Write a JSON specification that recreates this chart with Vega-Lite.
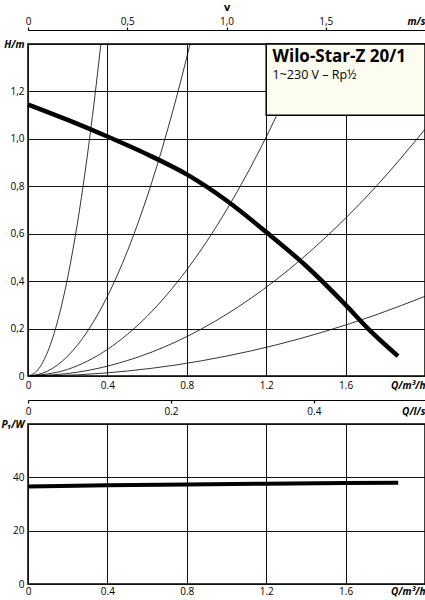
{
  "$schema": "https://vega.github.io/schema/vega-lite/v6.json",
  "padding": {"left": 0, "top": 0, "right": 1, "bottom": 0},
  "background": "white",
  "datasets": {
    "curves": [
      {"curve": "pump", "Q": 0, "H": 1.145},
      {"curve": "pump", "Q": 0.2, "H": 1.08},
      {"curve": "pump", "Q": 0.4, "H": 1.01},
      {"curve": "pump", "Q": 0.6, "H": 0.935},
      {"curve": "pump", "Q": 0.8, "H": 0.85},
      {"curve": "pump", "Q": 1.0, "H": 0.74},
      {"curve": "pump", "Q": 1.2, "H": 0.607},
      {"curve": "pump", "Q": 1.4, "H": 0.465},
      {"curve": "pump", "Q": 1.6, "H": 0.3},
      {"curve": "pump", "Q": 1.713, "H": 0.2},
      {"curve": "pump", "Q": 1.864, "H": 0.084},
      {"curve": "a", "Q": 0, "H": 0},
      {"curve": "a", "Q": 0.05, "H": 0.026},
      {"curve": "a", "Q": 0.1, "H": 0.104},
      {"curve": "a", "Q": 0.15, "H": 0.234},
      {"curve": "a", "Q": 0.2, "H": 0.416},
      {"curve": "a", "Q": 0.25, "H": 0.65},
      {"curve": "a", "Q": 0.3, "H": 0.936},
      {"curve": "a", "Q": 0.35, "H": 1.274},
      {"curve": "a", "Q": 0.38, "H": 1.5},
      {"curve": "b", "Q": 0, "H": 0},
      {"curve": "b", "Q": 0.1, "H": 0.021},
      {"curve": "b", "Q": 0.2, "H": 0.084},
      {"curve": "b", "Q": 0.3, "H": 0.189},
      {"curve": "b", "Q": 0.4, "H": 0.336},
      {"curve": "b", "Q": 0.5, "H": 0.525},
      {"curve": "b", "Q": 0.6, "H": 0.756},
      {"curve": "b", "Q": 0.7, "H": 1.029},
      {"curve": "b", "Q": 0.8, "H": 1.344},
      {"curve": "b", "Q": 0.85, "H": 1.517},
      {"curve": "c", "Q": 0, "H": 0},
      {"curve": "c", "Q": 0.2, "H": 0.028},
      {"curve": "c", "Q": 0.4, "H": 0.112},
      {"curve": "c", "Q": 0.6, "H": 0.252},
      {"curve": "c", "Q": 0.8, "H": 0.448},
      {"curve": "c", "Q": 1.0, "H": 0.7},
      {"curve": "c", "Q": 1.2, "H": 1.008},
      {"curve": "c", "Q": 1.4, "H": 1.372},
      {"curve": "c", "Q": 1.45, "H": 1.47},
      {"curve": "d", "Q": 0, "H": 0},
      {"curve": "d", "Q": 0.25, "H": 0.016},
      {"curve": "d", "Q": 0.5, "H": 0.065},
      {"curve": "d", "Q": 0.75, "H": 0.146},
      {"curve": "d", "Q": 1.0, "H": 0.26},
      {"curve": "d", "Q": 1.25, "H": 0.406},
      {"curve": "d", "Q": 1.5, "H": 0.585},
      {"curve": "d", "Q": 1.75, "H": 0.796},
      {"curve": "d", "Q": 2.0, "H": 1.04},
      {"curve": "e", "Q": 0, "H": 0},
      {"curve": "e", "Q": 0.25, "H": 0.005},
      {"curve": "e", "Q": 0.5, "H": 0.021},
      {"curve": "e", "Q": 0.75, "H": 0.047},
      {"curve": "e", "Q": 1.0, "H": 0.084},
      {"curve": "e", "Q": 1.25, "H": 0.131},
      {"curve": "e", "Q": 1.5, "H": 0.189},
      {"curve": "e", "Q": 1.75, "H": 0.257},
      {"curve": "e", "Q": 2.0, "H": 0.336}
    ],
    "power": [
      {"Q": 0, "P": 36.6},
      {"Q": 0.4, "P": 37.0},
      {"Q": 0.8, "P": 37.3},
      {"Q": 1.2, "P": 37.6},
      {"Q": 1.6, "P": 37.9},
      {"Q": 1.865, "P": 38.0}
    ]
  },
  "vconcat": [
    {
      "width": 397,
      "height": 332,
      "layer": [
        {
          "data": {"name": "curves"},
          "transform": [{"filter": "datum.curve != 'pump'"}],
          "mark": {"type": "line", "color": "black", "strokeWidth": 0.8, "clip": true, "interpolate": "monotone"},
          "encoding": {
            "x": {
              "field": "Q", "type": "quantitative",
              "scale": {"domain": [0, 2], "nice": false},
              "axis": {
                "orient": "bottom", "title": null, "grid": true,
                "values": [0, 0.4, 0.8, 1.2, 1.6, 2],
                "labelExpr": "datum.value >= 1.99 ? 'Q/m³/h' : datum.value == 0 ? '0' : format(datum.value, '.1f')",
                "labelAlign": {"condition": {"test": "datum.value >= 1.99", "value": "right"}, "value": "center"},
                "labelFontWeight": {"condition": {"test": "datum.value >= 1.99", "value": "bold"}, "value": "normal"},
                "labelFontStyle": {"condition": {"test": "datum.value >= 1.99", "value": "italic"}, "value": "normal"}
              }
            },
            "y": {
              "field": "H", "type": "quantitative",
              "scale": {"domain": [0, 1.4], "nice": false},
              "axis": {
                "title": null, "grid": true,
                "values": [0, 0.2, 0.4, 0.6, 0.8, 1, 1.2, 1.4],
                "labelExpr": "datum.value >= 1.39 ? 'H/m' : datum.value == 0 ? '0' : replace(format(datum.value, '.1f'), '.', ',')",
                "labelFontWeight": {"condition": {"test": "datum.value >= 1.39", "value": "bold"}, "value": "normal"},
                "labelFontStyle": {"condition": {"test": "datum.value >= 1.39", "value": "italic"}, "value": "normal"}
              }
            },
            "detail": {"field": "curve"}
          }
        },
        {
          "data": {"name": "curves"},
          "transform": [{"filter": "datum.curve == 'pump'"}],
          "mark": {"type": "line", "color": "black", "strokeWidth": 4.5, "interpolate": "monotone"},
          "encoding": {
            "x": {"field": "Q", "type": "quantitative", "scale": {"domain": [0, 2], "nice": false}, "axis": null},
            "y": {"field": "H", "type": "quantitative"}
          }
        },
        {
          "data": {"values": [{}]},
          "mark": {"type": "rect", "fill": "#fdfcf1", "stroke": "black", "strokeWidth": 1.5},
          "encoding": {
            "x": {"datum": 1.2, "type": "quantitative", "scale": {"domain": [0, 2], "nice": false}, "axis": null},
            "x2": {"datum": 2.0},
            "y": {"datum": 1.1, "type": "quantitative"},
            "y2": {"datum": 1.4}
          }
        },
        {
          "data": {"values": [{}]},
          "mark": {"type": "text", "text": "Wilo-Star-Z 20/1", "align": "left", "baseline": "alphabetic", "font": "Open Sans", "fontWeight": "bold", "fontSize": 17, "color": "black"},
          "encoding": {
            "x": {"datum": 1.232, "type": "quantitative", "scale": {"domain": [0, 2], "nice": false}, "axis": null},
            "y": {"datum": 1.325, "type": "quantitative"}
          }
        },
        {
          "data": {"values": [{}]},
          "mark": {"type": "text", "text": "1~230 V – Rp½", "align": "left", "baseline": "alphabetic", "font": "Open Sans", "fontSize": 12.5, "color": "black"},
          "encoding": {
            "x": {"datum": 1.232, "type": "quantitative", "scale": {"domain": [0, 2], "nice": false}, "axis": null},
            "y": {"datum": 1.252, "type": "quantitative"}
          }
        },
        {
          "data": {"values": [{}]},
          "mark": {"type": "point", "opacity": 0},
          "encoding": {
            "x": {
              "datum": 0, "type": "quantitative",
              "scale": {"domain": [0, 2], "nice": false},
              "axis": {
                "orient": "top", "title": "v", "offset": 14, "grid": false,
                "domain": true, "ticks": true, "tickSize": 3, "labelPadding": 1,
                "titleFontSize": 11, "titleFontWeight": "bold", "titlePadding": 4,
                "values": [0, 0.5, 1, 1.5, 2],
                "labelExpr": "datum.value >= 1.99 ? 'm/s' : datum.value == 0 ? '0' : replace(format(datum.value, '.1f'), '.', ',')",
                "labelAlign": {"condition": {"test": "datum.value >= 1.99", "value": "right"}, "value": "center"},
                "labelFontWeight": {"condition": {"test": "datum.value >= 1.99", "value": "bold"}, "value": "normal"},
                "labelFontStyle": {"condition": {"test": "datum.value >= 1.99", "value": "italic"}, "value": "normal"},
                "tickOpacity": {"condition": {"test": "datum.value >= 1.99", "value": 0}, "value": 1}
              }
            },
            "y": {"datum": 0, "type": "quantitative"}
          }
        },
        {
          "data": {"values": [{}]},
          "mark": {"type": "point", "opacity": 0},
          "encoding": {
            "x": {
              "datum": 0, "type": "quantitative",
              "scale": {"domain": [0, 2], "nice": false},
              "axis": {
                "orient": "bottom", "title": null, "offset": 24, "grid": false,
                "domain": true, "ticks": true, "tickSize": 3, "labelPadding": 3,
                "values": [0, 0.72, 1.44, 2],
                "labelExpr": "datum.value >= 1.99 ? 'Q/l/s' : datum.value == 0 ? '0' : format(datum.value / 3.6, '.1f')",
                "labelAlign": {"condition": {"test": "datum.value >= 1.99", "value": "right"}, "value": "center"},
                "labelFontWeight": {"condition": {"test": "datum.value >= 1.99", "value": "bold"}, "value": "normal"},
                "labelFontStyle": {"condition": {"test": "datum.value >= 1.99", "value": "italic"}, "value": "normal"},
                "tickOpacity": {"condition": {"test": "datum.value >= 1.99", "value": 0}, "value": 1}
              }
            },
            "y": {"datum": 0, "type": "quantitative"}
          }
        }
      ],
      "resolve": {"axis": {"x": "independent"}}
    },
    {
      "width": 397,
      "height": 160,
      "data": {"name": "power"},
      "mark": {"type": "line", "color": "black", "strokeWidth": 4},
      "encoding": {
        "x": {
          "field": "Q", "type": "quantitative",
          "scale": {"domain": [0, 2], "nice": false},
          "axis": {
            "title": null, "grid": true, "labelPadding": 2,
            "values": [0, 0.4, 0.8, 1.2, 1.6, 2],
            "labelExpr": "datum.value >= 1.99 ? 'Q/m³/h' : datum.value == 0 ? '0' : format(datum.value, '.1f')",
            "labelAlign": {"condition": {"test": "datum.value >= 1.99", "value": "right"}, "value": "center"},
            "labelFontWeight": {"condition": {"test": "datum.value >= 1.99", "value": "bold"}, "value": "normal"},
            "labelFontStyle": {"condition": {"test": "datum.value >= 1.99", "value": "italic"}, "value": "normal"}
          }
        },
        "y": {
          "field": "P", "type": "quantitative",
          "scale": {"domain": [0, 60], "nice": false},
          "axis": {
            "title": null, "grid": true,
            "values": [0, 20, 40, 60],
            "labelExpr": "datum.value >= 59 ? 'P₁/W' : format(datum.value, 'd')",
            "labelFontWeight": {"condition": {"test": "datum.value >= 59", "value": "bold"}, "value": "normal"},
            "labelFontStyle": {"condition": {"test": "datum.value >= 59", "value": "italic"}, "value": "normal"}
          }
        }
      }
    }
  ],
  "spacing": 1,
  "config": {
    "font": "Open Sans",
    "view": {"stroke": "black", "strokeWidth": 1.5},
    "axis": {
      "labelFont": "Open Sans", "labelFontSize": 10, "labelColor": "black",
      "titleFont": "Open Sans", "titleColor": "black",
      "domain": false, "ticks": false, "labelPadding": 4,
      "gridColor": "#111111", "gridWidth": 1, "gridOpacity": 1,
      "domainColor": "black", "domainWidth": 1.2, "tickColor": "black", "tickWidth": 1.2,
      "labelFlush": false, "labelOverlap": false
    },
    "axisY": {"minExtent": 23, "maxExtent": 23}
  }
}
